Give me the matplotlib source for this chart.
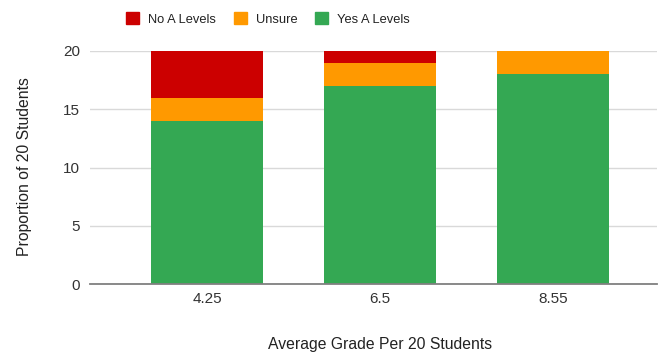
import matplotlib.pyplot as plt
from matplotlib.patches import Patch

plt.rcParams['font.family'] = ['Liberation Sans', 'DejaVu Sans']

# average grade groups
grades = ['4.25', '6.5', '8.55']
yes_a_levels = [14, 17, 18]
unsure = [2, 2, 2]
no_a_levels = [4, 1, 0]

GREEN = '#34a853'
ORANGE = '#ff9900'
RED = '#cc0000'

fig = plt.figure(figsize=(6.63, 3.56), dpi=100)
ax = fig.add_axes([90 / 663, 1 - 284 / 356, 567 / 663, 233 / 356])

x = list(range(len(grades)))
w = 0.65
ax.bar(x, yes_a_levels, w, color=GREEN, zorder=3)
bottom2 = [a for a in yes_a_levels]
ax.bar(x, unsure, w, bottom=bottom2, color=ORANGE, zorder=3)
bottom3 = [a + b for a, b in zip(yes_a_levels, unsure)]
ax.bar(x, no_a_levels, w, bottom=bottom3, color=RED, zorder=3)

ax.set_xlim(-117 / 173, 2 + 104 / 173)
ax.set_ylim(0, 20)
ax.set_yticks([0, 5, 10, 15, 20])
ax.set_xticks(x)
ax.set_xticklabels(grades)

ax.grid(axis='y', color='#d9d9d9', lw=1, zorder=0)
for s in ['top', 'right', 'left']:
    ax.spines[s].set_visible(False)
ax.spines['bottom'].set_color('#808080')
ax.spines['bottom'].set_linewidth(1.3)
ax.spines['bottom'].set_zorder(4)
ax.tick_params(length=0, labelsize=11, colors='#333333')
ax.tick_params(axis='x', pad=6)
ax.tick_params(axis='y', pad=7)

ax.set_xlabel('Average Grade Per 20 Students', fontsize=11.3, color='#222222')
ax.xaxis.set_label_coords(0.511, -0.226)
ax.set_ylabel('Proportion of 20 Students', fontsize=11.3, color='#222222')
ax.yaxis.set_label_coords(-0.102, 0.502)

handles = [Patch(color=RED, label='No A Levels'),
           Patch(color=ORANGE, label='Unsure'),
           Patch(color=GREEN, label='Yes A Levels')]
fig.legend(handles=handles, loc='center', bbox_to_anchor=(268 / 663, 1 - 19 / 356),
           ncol=3, frameon=False, fontsize=9.3, handlelength=1.0,
           handleheight=1.0, handletextpad=0.7, columnspacing=1.35,
           labelcolor='#222222')

fig.savefig('out.png', dpi=100)
